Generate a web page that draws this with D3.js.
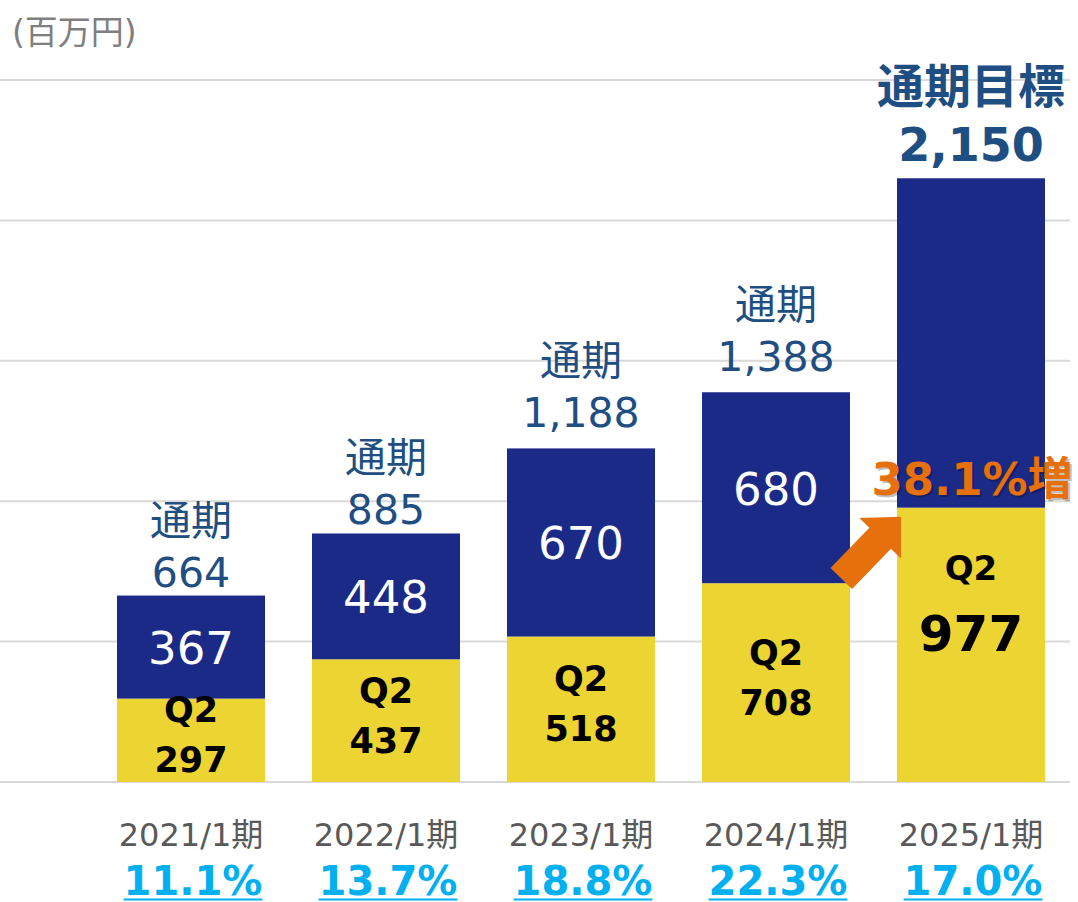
<!DOCTYPE html>
<html><head><meta charset="utf-8">
<script src="https://cdn.jsdelivr.net/npm/d3@7"></script>
<style>
html,body{margin:0;padding:0;background:#fff;}
svg text{font-family:"DejaVu Sans","Noto Sans CJK JP",sans-serif;}
</style></head>
<body><svg id="c" width="1078" height="902"></svg>
<script>
const categories = ["2021/1期","2022/1期","2023/1期","2024/1期","2025/1期"];
const q2Values = [297, 437, 518, 708, 977];
const h2Values = [367, 448, 670, 680, 1173];
const fullYearValues = [664, 885, 1188, 1388, 2150];
const fullYearLabels = ["664","885","1,188","1,388","2,150"];
const topTitles = ["通期","通期","通期","通期","通期目標"];
const marginLabels = ["11.1%","13.7%","18.8%","22.3%","17.0%"];
const yTicks = [0, 500, 1000, 1500, 2000, 2500];
const unitLabel = "(百万円)";
const growthLabel = "38.1%増";

const NAVY = "#1b2a87", YELLOW = "#ecd432", LBLUE = "#1f4e82", CYAN = "#00b0f0", ORANGE = "#e5700c";

const svg = d3.select("#c");
const x = d3.scaleBand().domain(categories).range([117, 1045]).paddingInner(0.241).paddingOuter(0);
const y = d3.scaleLinear().domain([0, 2500]).range([782, 80]);

// gridlines
svg.append("g").selectAll("line").data(yTicks).join("line")
  .attr("x1", 0).attr("x2", 1070)
  .attr("y1", d => y(d)).attr("y2", d => y(d))
  .attr("stroke", "#d9d9d9").attr("stroke-width", 2);

// unit
svg.append("text").attr("x", 12).attr("y", 44).text(unitLabel)
  .attr("font-size", 33).attr("fill", "#7f7f7f");

const data = categories.map((c, i) => ({c, i, q2: q2Values[i], h2: h2Values[i], full: fullYearValues[i]}));

// bars
svg.append("g").selectAll("rect.q").data(data).join("rect")
  .attr("x", d => x(d.c)).attr("width", x.bandwidth())
  .attr("y", d => y(d.q2)).attr("height", d => y(0) - y(d.q2))
  .attr("fill", YELLOW);
svg.append("g").selectAll("rect.h").data(data).join("rect")
  .attr("x", d => x(d.c)).attr("width", x.bandwidth())
  .attr("y", d => y(d.q2 + d.h2)).attr("height", d => y(d.q2) - y(d.q2 + d.h2))
  .attr("fill", NAVY);

const cx = d => x(d.c) + x.bandwidth() / 2;
const last = data.length - 1;

// top labels
data.forEach(d => {
  const top = y(d.q2 + d.h2);
  if (d.i < last) {
    const extra = d.full >= 1000 ? 12 : 0;
    svg.append("text").attr("x", cx(d)).attr("y", top - 61 - extra).attr("text-anchor", "middle")
      .attr("font-size", 41).attr("fill", LBLUE).text(topTitles[d.i]);
    svg.append("text").attr("x", cx(d)).attr("y", top - 9 - extra).attr("text-anchor", "middle")
      .attr("font-size", 41).attr("fill", LBLUE).text(fullYearLabels[d.i]);
    // navy value
    const mid = (y(d.q2) + top) / 2;
    svg.append("text").attr("x", cx(d)).attr("y", mid + 17).attr("text-anchor", "middle")
      .attr("font-size", 45).attr("fill", "#fff").text(d.h2);
    // Q2 labels
    const qm = (y(0) + y(d.q2)) / 2;
    svg.append("text").attr("x", cx(d)).attr("y", qm - 31 + 13).attr("text-anchor", "middle")
      .attr("font-size", 35).attr("font-weight", "bold").attr("fill", "#000").text("Q2");
    svg.append("text").attr("x", cx(d)).attr("y", qm + 19 + 13).attr("text-anchor", "middle")
      .attr("font-size", 35).attr("font-weight", "bold").attr("fill", "#000").text(d.q2);
  } else {
    svg.append("text").attr("x", cx(d)).attr("y", top - 75).attr("text-anchor", "middle")
      .attr("font-size", 47).attr("font-weight", "bold").attr("fill", LBLUE).text(topTitles[d.i]);
    svg.append("text").attr("x", cx(d)).attr("y", top - 17).attr("text-anchor", "middle")
      .attr("font-size", 46).attr("font-weight", "bold").attr("fill", LBLUE).text(fullYearLabels[d.i]);
    const qTop = y(d.q2);
    svg.append("text").attr("x", cx(d)).attr("y", qTop + 72).attr("text-anchor", "middle")
      .attr("font-size", 34).attr("font-weight", "bold").attr("fill", "#000").text("Q2");
    svg.append("text").attr("x", cx(d)).attr("y", qTop + 143).attr("text-anchor", "middle")
      .attr("font-size", 50).attr("font-weight", "bold").attr("fill", "#000").text(d.q2);
    // growth label with shadow
    svg.append("text").attr("x", cx(d) + 3).attr("y", qTop - 13 + 2).attr("text-anchor", "middle")
      .attr("font-size", 45).attr("font-weight", "bold").attr("fill", "rgba(0,0,0,0.25)").text(growthLabel);
    svg.append("text").attr("x", cx(d) + 1).attr("y", qTop - 13).attr("text-anchor", "middle")
      .attr("font-size", 45).attr("font-weight", "bold").attr("fill", ORANGE).text(growthLabel);
    // arrow
    const tipX = x(d.c) + 4, tipY = qTop + 9;
    const L = 86, hl = 30, hw = 29, sw = 15;
    const pts = [[0,-sw],[L-hl,-sw],[L-hl,-hw],[L,0],[L-hl,hw],[L-hl,sw],[0,sw]];
    svg.append("polygon")
      .attr("points", pts.map(p => p.join(",")).join(" "))
      .attr("fill", ORANGE)
      .attr("transform", `translate(${tipX},${tipY}) rotate(-46) translate(${-L},0)`);
  }
});

// x labels
svg.append("g").selectAll("text").data(data).join("text")
  .attr("x", cx).attr("y", 846).attr("text-anchor", "middle")
  .attr("font-size", 32).attr("fill", "#595959").text(d => d.c);

// margin labels with underline
data.forEach(d => {
  const t = svg.append("text").attr("x", cx(d) + 2).attr("y", 895).attr("text-anchor", "middle")
    .attr("font-size", 40).attr("font-weight", "bold").attr("fill", CYAN).text(marginLabels[d.i]);
  const bb = t.node().getBBox();
  svg.append("line").attr("x1", bb.x).attr("x2", bb.x + bb.width)
    .attr("y1", 899.5).attr("y2", 899.5).attr("stroke", CYAN).attr("stroke-width", 2);
});
</script></body></html>
